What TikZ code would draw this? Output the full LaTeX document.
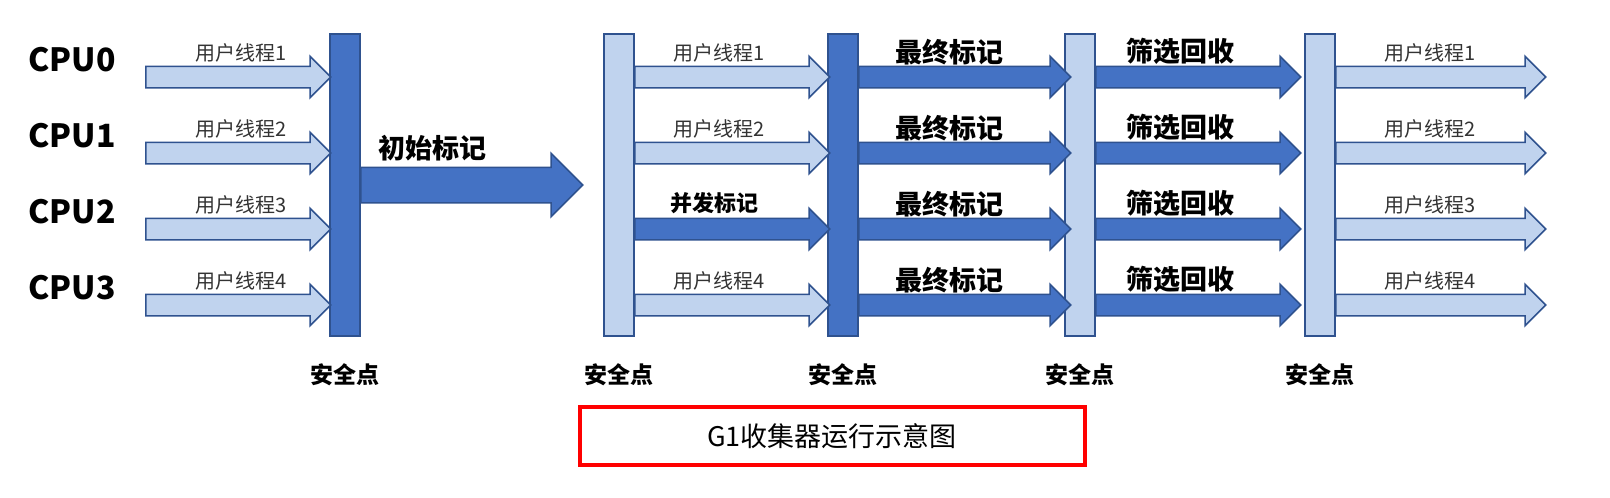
\documentclass[tikz,border=0pt]{standalone}
\usepackage{fontspec}
\setmainfont{Noto Sans CJK SC}
\usetikzlibrary{positioning,shapes.arrows}
\definecolor{darkblue}{HTML}{4472C4}
\definecolor{edgeblue}{HTML}{2F528F}
\definecolor{lightblue}{HTML}{C0D3EE}
\tikzset{
    bar/.style={draw=edgeblue, line width=1.5pt, minimum width=30pt, minimum height=302pt, inner sep=0pt},
    arr/.style={single arrow, draw=edgeblue, line width=1.5pt, inner sep=0pt,
        single arrow head extend=10pt, single arrow head indent=0pt, anchor=west, shape border rotate=0},
    thread/.style={font=\fontsize{20}{20}\selectfont, text=black!80},
    phase/.style={font=\fontsize{27}{27}\selectfont\bfseries},
    cpu/.style={font=\fontsize{32}{32}\selectfont\bfseries},
    safe/.style={font=\fontsize{23}{23}\selectfont\bfseries}
}
\newcommand{\shaft}[1]{\rule{0pt}{#1}}
\begin{document}
\begin{tikzpicture}[x=1pt,y=-1pt]
    \useasboundingbox[fill=white] (0,0) rectangle (1610,498);
    % safepoint bars
    \node[bar, fill=darkblue]  (b1) at (345,185) {};
    \node[bar, fill=lightblue] (b2) at (619,185) {};
    \node[bar, fill=darkblue]  (b3) at (843,185) {};
    \node[bar, fill=lightblue] (b4) at (1080,185) {};
    \node[bar, fill=lightblue] (b5) at (1320,185) {};
    \foreach \b in {b1,b2,b3,b4,b5}
        \node[safe] (s\b) at (\b |- 0,375) {安全点};
    % rows
    \foreach \i/\y in {0/77,1/153,2/229,3/305} {
        \pgfmathtruncatemacro{\n}{\i+1}
        \node[cpu] (cpu\i) at (72,\y-17) {CPU\i};
        % user threads before first safepoint
        \node[arr, fill=lightblue, minimum height=185pt] (u\i) at (145,\y) {\shaft{20pt}};
        \node[thread, above=0pt of u\i.north, xshift=8pt] (ul\i) {用户线程\n};
        % final marking
        \node[arr, fill=darkblue, minimum height=212pt] (f\i) at (858,\y) {\shaft{20pt}};
        \node[phase, above=-3pt of f\i.north, xshift=-10pt] (fl\i) {最终标记};
        % live data counting and evacuation
        \node[arr, fill=darkblue, minimum height=205pt] (e\i) at (1095,\y) {\shaft{20pt}};
        \node[phase, above=-3pt of e\i.north, xshift=-12pt] (el\i) {筛选回收};
        % user threads after last safepoint
        \node[arr, fill=lightblue, minimum height=210pt] (r\i) at (1335,\y) {\shaft{20pt}};
        \node[thread, above=0pt of r\i.north, xshift=-5pt] (rl\i) {用户线程\n};
    }
    % concurrent phase
    \foreach \i/\y in {0/77,1/153,3/305} {
        \pgfmathtruncatemacro{\n}{\i+1}
        \node[arr, fill=lightblue, minimum height=195pt] (c\i) at (634,\y) {\shaft{20pt}};
        \node[thread, above=0pt of c\i.north, xshift=-8pt] (cl\i) {用户线程\n};
    }
    \node[arr, fill=darkblue, minimum height=195pt] (c2) at (634,229) {\shaft{20pt}};
    \node[phase, above=0pt of c2.north, xshift=-12pt, font=\fontsize{22}{22}\selectfont\bfseries] (cl2) {并发标记};
    % initial marking
    \node[arr, fill=darkblue, minimum height=222pt, single arrow head extend=14pt] (im) at (360,185) {\shaft{34pt}};
    \node[phase, above=2pt of im.north, xshift=-30pt] (iml) {初始标记};
    % caption
    \node[draw=red, line width=4pt, minimum width=505pt, minimum height=58pt,
        font=\fontsize{27}{27}\selectfont] (cap) at (832,436) {G1收集器运行示意图};
\end{tikzpicture}
\end{document}
